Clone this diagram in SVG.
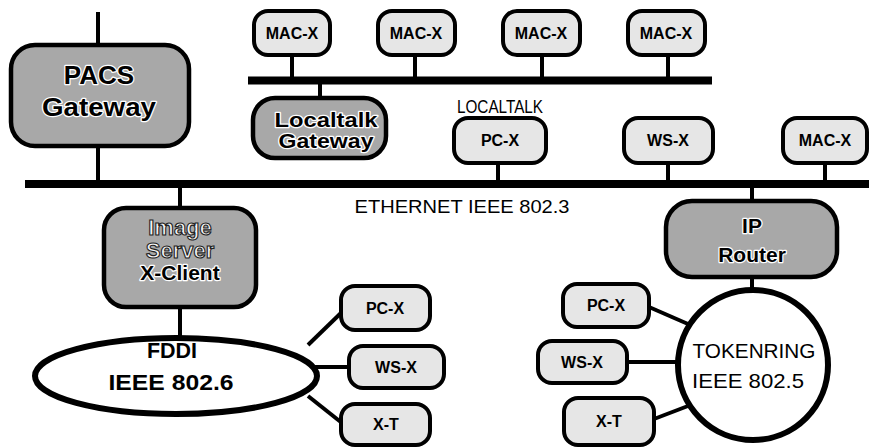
<svg xmlns="http://www.w3.org/2000/svg" width="869" height="447" viewBox="0 0 869 447">
<style>
.dk{fill:#a8a8a8;stroke:#000;stroke-width:4.5}
.lt{fill:#e6e6e6;stroke:#000;stroke-width:4}
.ring{fill:#fff;stroke:#000;stroke-width:6}
.bar{stroke:#000;stroke-width:8;fill:none}
.ln{stroke:#000;stroke-width:4;fill:none}
text{font-family:"Liberation Sans",Arial,sans-serif;text-anchor:middle;fill:#000}
.s{font-size:16px;font-weight:bold}
.b{font-weight:bold;stroke:#fff;stroke-width:2.5;paint-order:stroke;stroke-linejoin:round}
.o{font-weight:bold;fill:#f4f4f4;stroke:#222;stroke-width:1.1}
.lab{font-size:19px}
</style>
<g id="connectors">
<line class="bar" x1="25" y1="184" x2="869" y2="184"/>
<line class="bar" x1="248" y1="80.5" x2="712" y2="80.5" stroke-width="7"/>
<line class="ln" x1="98" y1="12" x2="98" y2="45"/>
<line class="ln" x1="98" y1="145" x2="98" y2="182"/>
<line class="ln" x1="292" y1="55" x2="292" y2="80"/>
<line class="ln" x1="415" y1="55" x2="415" y2="80"/>
<line class="ln" x1="542" y1="55" x2="542" y2="80"/>
<line class="ln" x1="668" y1="55" x2="668" y2="80"/>
<line class="ln" x1="320" y1="82" x2="320" y2="98"/>
<line class="ln" x1="498" y1="163" x2="498" y2="182"/>
<line class="ln" x1="668" y1="163" x2="668" y2="182"/>
<line class="ln" x1="825" y1="163" x2="825" y2="182"/>
<line class="ln" x1="180" y1="186" x2="180" y2="208"/>
<line class="ln" x1="180" y1="307" x2="180" y2="337"/>
<line class="ln" x1="752" y1="186" x2="752" y2="201"/>
<line class="ln" x1="752" y1="277" x2="752" y2="290"/>
<line class="ln" x1="308" y1="345" x2="342" y2="312"/>
<line class="ln" x1="312" y1="367" x2="349" y2="367"/>
<line class="ln" x1="308" y1="396" x2="342" y2="423"/>
<line class="ln" x1="649" y1="307" x2="688" y2="324"/>
<line class="ln" x1="627" y1="362" x2="679" y2="362"/>
<line class="ln" x1="654" y1="419" x2="688" y2="406"/>
</g>
<g id="pacs-gateway">
<rect class="dk" x="11" y="45" width="178" height="101" rx="24"/>
<text class="b" x="99" y="84" font-size="26">PACS</text>
<text class="b" x="99" y="116" font-size="26" textLength="114" lengthAdjust="spacingAndGlyphs">Gateway</text>
</g>
<g id="mac-x-1"><rect class="lt" x="254" y="11" width="76" height="44" rx="14"/><text class="s" x="292" y="39">MAC-X</text></g>
<g id="mac-x-2"><rect class="lt" x="378" y="11" width="77" height="44" rx="14"/><text class="s" x="416" y="39">MAC-X</text></g>
<g id="mac-x-3"><rect class="lt" x="503" y="11" width="77" height="44" rx="14"/><text class="s" x="541" y="39">MAC-X</text></g>
<g id="mac-x-4"><rect class="lt" x="628" y="11" width="77" height="44" rx="14"/><text class="s" x="666" y="39">MAC-X</text></g>
<g id="localtalk-label"><text class="lab" x="500" y="113" textLength="86" lengthAdjust="spacingAndGlyphs">LOCALTALK</text></g>
<g id="localtalk-gateway">
<rect class="dk" x="253" y="98" width="133" height="60" rx="22"/>
<text class="b" x="326" y="127" font-size="21" textLength="103" lengthAdjust="spacingAndGlyphs">Localtalk</text>
<text class="b" x="326" y="148" font-size="21" textLength="95" lengthAdjust="spacingAndGlyphs">Gateway</text>
</g>
<g id="pc-x-eth"><rect class="lt" x="454" y="118" width="92" height="45" rx="14"/><text class="s" x="500" y="146">PC-X</text></g>
<g id="ws-x-eth"><rect class="lt" x="624" y="118" width="89" height="45" rx="14"/><text class="s" x="668" y="146">WS-X</text></g>
<g id="mac-x-eth"><rect class="lt" x="783" y="118" width="84" height="45" rx="14"/><text class="s" x="825" y="146">MAC-X</text></g>
<g id="ethernet-label"><text class="lab" x="462" y="213" font-size="20" textLength="215" lengthAdjust="spacingAndGlyphs">ETHERNET IEEE 802.3</text></g>
<g id="image-server">
<rect class="dk" x="104" y="208" width="152" height="99" rx="22"/>
<text class="o" x="180" y="235" font-size="22">Image</text>
<text class="o" x="180" y="258" font-size="22">Server</text>
<text class="b" x="180" y="280" font-size="21">X-Client</text>
</g>
<g id="ip-router">
<rect class="dk" x="666" y="201" width="171" height="76" rx="26"/>
<text class="b" x="752" y="233" font-size="21">IP</text>
<text class="b" x="752" y="262" font-size="21">Router</text>
</g>
<g id="fddi">
<ellipse class="ring" cx="176" cy="376" rx="141" ry="38"/>
<text x="172" y="358" font-size="22" font-weight="bold" textLength="50" lengthAdjust="spacingAndGlyphs">FDDI</text>
<text x="171" y="390" font-size="22" font-weight="bold" textLength="125" lengthAdjust="spacingAndGlyphs">IEEE 802.6</text>
</g>
<g id="pc-x-fddi"><rect class="lt" x="341" y="286" width="89" height="44" rx="14"/><text class="s" x="385" y="314">PC-X</text></g>
<g id="ws-x-fddi"><rect class="lt" x="349" y="346" width="95" height="42" rx="14"/><text class="s" x="396" y="373">WS-X</text></g>
<g id="x-t-fddi"><rect class="lt" x="341" y="404" width="89" height="41" rx="14"/><text class="s" x="386" y="430">X-T</text></g>
<g id="tokenring">
<circle class="ring" cx="753" cy="365" r="75"/>
<text x="754" y="358" font-size="21" textLength="123" lengthAdjust="spacingAndGlyphs">TOKENRING</text>
<text x="748" y="388" font-size="21" textLength="112" lengthAdjust="spacingAndGlyphs">IEEE 802.5</text>
</g>
<g id="pc-x-tr"><rect class="lt" x="563" y="284" width="86" height="43" rx="14"/><text class="s" x="606" y="311">PC-X</text></g>
<g id="ws-x-tr"><rect class="lt" x="538" y="341" width="89" height="42" rx="14"/><text class="s" x="582" y="368">WS-X</text></g>
<g id="x-t-tr"><rect class="lt" x="564" y="398" width="90" height="47" rx="14"/><text class="s" x="609" y="427">X-T</text></g>
</svg>
